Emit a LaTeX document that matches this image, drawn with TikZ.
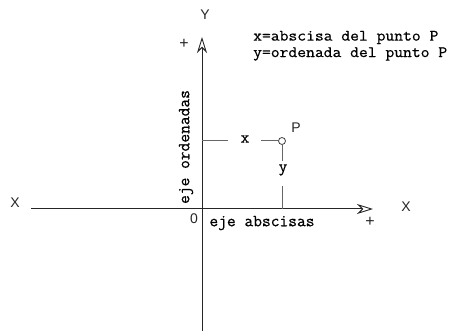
\documentclass[tikz,border=0pt]{standalone}
\usepackage{fontspec}
\newfontfamily\cadmono{Latin Modern Mono}[FakeBold=0.6]
\newfontfamily\cadsans{Liberation Sans}
\usetikzlibrary{arrows.meta}
\newcommand\legwide[1]{\scalebox{1.07}[1]{#1}}
\tikzset{
  axis/.style={line width=1pt, draw=black!85, -{Stealth[open, length=16pt, width=10pt, inset=5pt, line width=0.9pt]}},
  guide/.style={line width=1pt, draw=black!60},
  monotxt/.style={inner sep=0pt, font=\cadmono\fontsize{17}{15}\selectfont},
  legtxt/.style={inner sep=0pt, anchor=west, font=\cadmono\fontsize{16}{15}\selectfont},
  sanstxt/.style={inner sep=0pt, font=\cadsans\fontsize{14}{14}\selectfont, text=black!85},
  plustxt/.style={inner sep=0pt, font=\cadsans\fontsize{16}{16}\selectfont, text=black!85},
}
\begin{document}
\begin{tikzpicture}[x=1pt,y=-1pt]
\useasboundingbox (0,0) rectangle (451,331);
\coordinate (O) at (202,209);
\coordinate (xl) at (31,209);
\coordinate (xr) at (373,209);
\coordinate (yt) at (202,37);
\coordinate (yb) at (202,331);
\draw[axis] (xl) -- (xr);
\draw[axis] (yb) -- (yt);
% point P
\node[circle, draw=black!75, line width=0.8pt, inner sep=0pt, minimum size=7pt] (P) at (282,141) {};
\coordinate (Py) at (O |- P);
\coordinate (Px) at (P |- O);
\draw[guide] (Py) -- ++(26,0);
\draw[guide] (P.west) -- ++(-17.5,0);
\draw[guide] (P.south) -- ++(0,16);
\draw[guide] (Px) -- ++(0,-23);
% labels
\node[monotxt] (lx) at (245,139) {x};
\node[monotxt] (ly) at (283,170) {y};
\node[sanstxt] (lP) at (296,128) {P};
\node[sanstxt] (lY) at (205,15) {Y};
\node[sanstxt] (lXl) at (15,203) {X};
\node[sanstxt] (lXr) at (406,207) {X};
\node[plustxt] (plY) at (184,44) {+};
\node[plustxt] (plX) at (370,222) {+};
\node[sanstxt] (lO) at (194,219) {0};
\node[monotxt] (abs) at (262,223) {eje abscisas};
\node[monotxt, rotate=90] (ord) at (186,147) {eje ordenadas};
\node[legtxt] (leg1) at (253,37.5) {\legwide{x=abscisa del punto P}};
\node[legtxt] (leg2) at (253,54) {\legwide{y=ordenada del punto P}};
\end{tikzpicture}
\end{document}
